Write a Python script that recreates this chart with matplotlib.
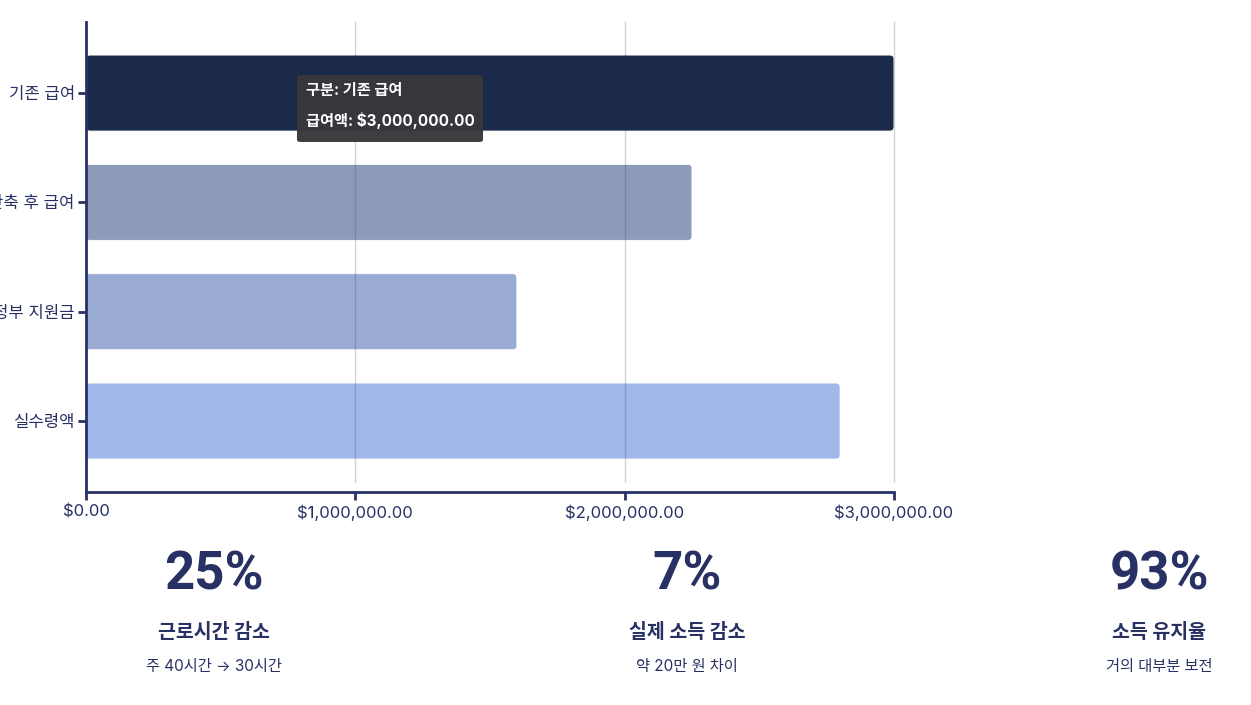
import matplotlib.pyplot as plt
from matplotlib.patches import FancyBboxPatch
from matplotlib.ticker import FuncFormatter

plt.rcParams['font.family'] = ['Inter', 'Noto Sans CJK KR', 'DejaVu Sans']

# 데이터
categories = ['기존 급여', '단축 후 급여', '정부 지원금', '실수령액']
amounts = [3000000, 2250000, 1600000, 2800000]
bar_colors = ['#1b2a4a', '#8e9bb8', '#99abd3', '#a1b8ea']
x_ticks = [0, 1000000, 2000000, 3000000]

stat_values = ['25%', '7%', '93%']
stat_titles = ['근로시간 감소', '실제 소득 감소', '소득 유지율']
stat_notes = ['주 40시간 → 30시간', '약 20만 원 차이', '거의 대부분 보전']

navy = '#283163'

fig = plt.figure(figsize=(12.51, 7.05), dpi=100)
ax = fig.add_axes([0.0687, 0.302, 0.6459, 0.6668])

ypos = list(range(len(categories)))
bars = ax.barh(ypos, amounts, height=0.695, color=bar_colors, zorder=2)

# 둥근 모서리 막대로 교체
rad_x = 4 / 269.33 * 1e6
rad_y = 4 / 109.33
for b, c in zip(bars, bar_colors):
    b.set_visible(False)
    p = FancyBboxPatch((b.get_x(), b.get_y()), b.get_width(), b.get_height(),
                       boxstyle=f'round,pad=0,rounding_size={rad_x}',
                       mutation_aspect=rad_y / rad_x,
                       facecolor=c, edgecolor='white', linewidth=0.6, zorder=2)
    ax.add_patch(p)

ax.set_xlim(0, 3000000)
ax.set_ylim(3.65, -0.65)
ax.set_yticks(ypos)
ax.set_yticklabels(categories)
ax.set_xticks(x_ticks)
ax.xaxis.set_major_formatter(FuncFormatter(lambda v, p: f'${v:,.2f}'))

for x in x_ticks[1:]:
    ax.plot([x, x], [3.56, -0.65], color='#1b2a4a', alpha=0.2, lw=1,
            zorder=3, clip_on=False)

for s in ['top', 'right']:
    ax.spines[s].set_visible(False)
for s in ['left', 'bottom']:
    ax.spines[s].set_color(navy)
    ax.spines[s].set_linewidth(2)
ax.tick_params(axis='both', colors=navy, width=2, length=6, labelsize=12)
ax.tick_params(axis='y', pad=2)
ax.tick_params(axis='x', pad=3)

# 툴팁
tip = FancyBboxPatch((0.2374, 0.7986), 0.1487, 0.095, transform=fig.transFigure,
                     boxstyle='round,pad=0,rounding_size=0.003',
                     facecolor='#38373b', edgecolor='none', alpha=0.97, zorder=5)
fig.patches.append(tip)
fig.text(0.2446, 0.8723, '구분: 기존 급여', color='white', fontsize=11,
         fontweight='bold', va='center', zorder=6)
fig.text(0.2446, 0.8284, '급여액: $3,000,000.00', color='white', fontsize=11,
         fontweight='bold', va='center', zorder=6)

# 하단 통계
xs = [0.1711, 0.549, 0.9265]
for x, v, t, n in zip(xs, stat_values, stat_titles, stat_notes):
    fig.text(x, 0.1844, v, ha='center', va='center', fontsize=38,
             fontweight='bold', color=navy, family=['Roboto', 'DejaVu Sans'])
    fig.text(x, 0.1035, t, ha='center', va='center', fontsize=14,
             fontweight='bold', color=navy)
    fig.text(x, 0.0553, n, ha='center', va='center', fontsize=11, color=navy)

plt.savefig('out.png', dpi=100)
